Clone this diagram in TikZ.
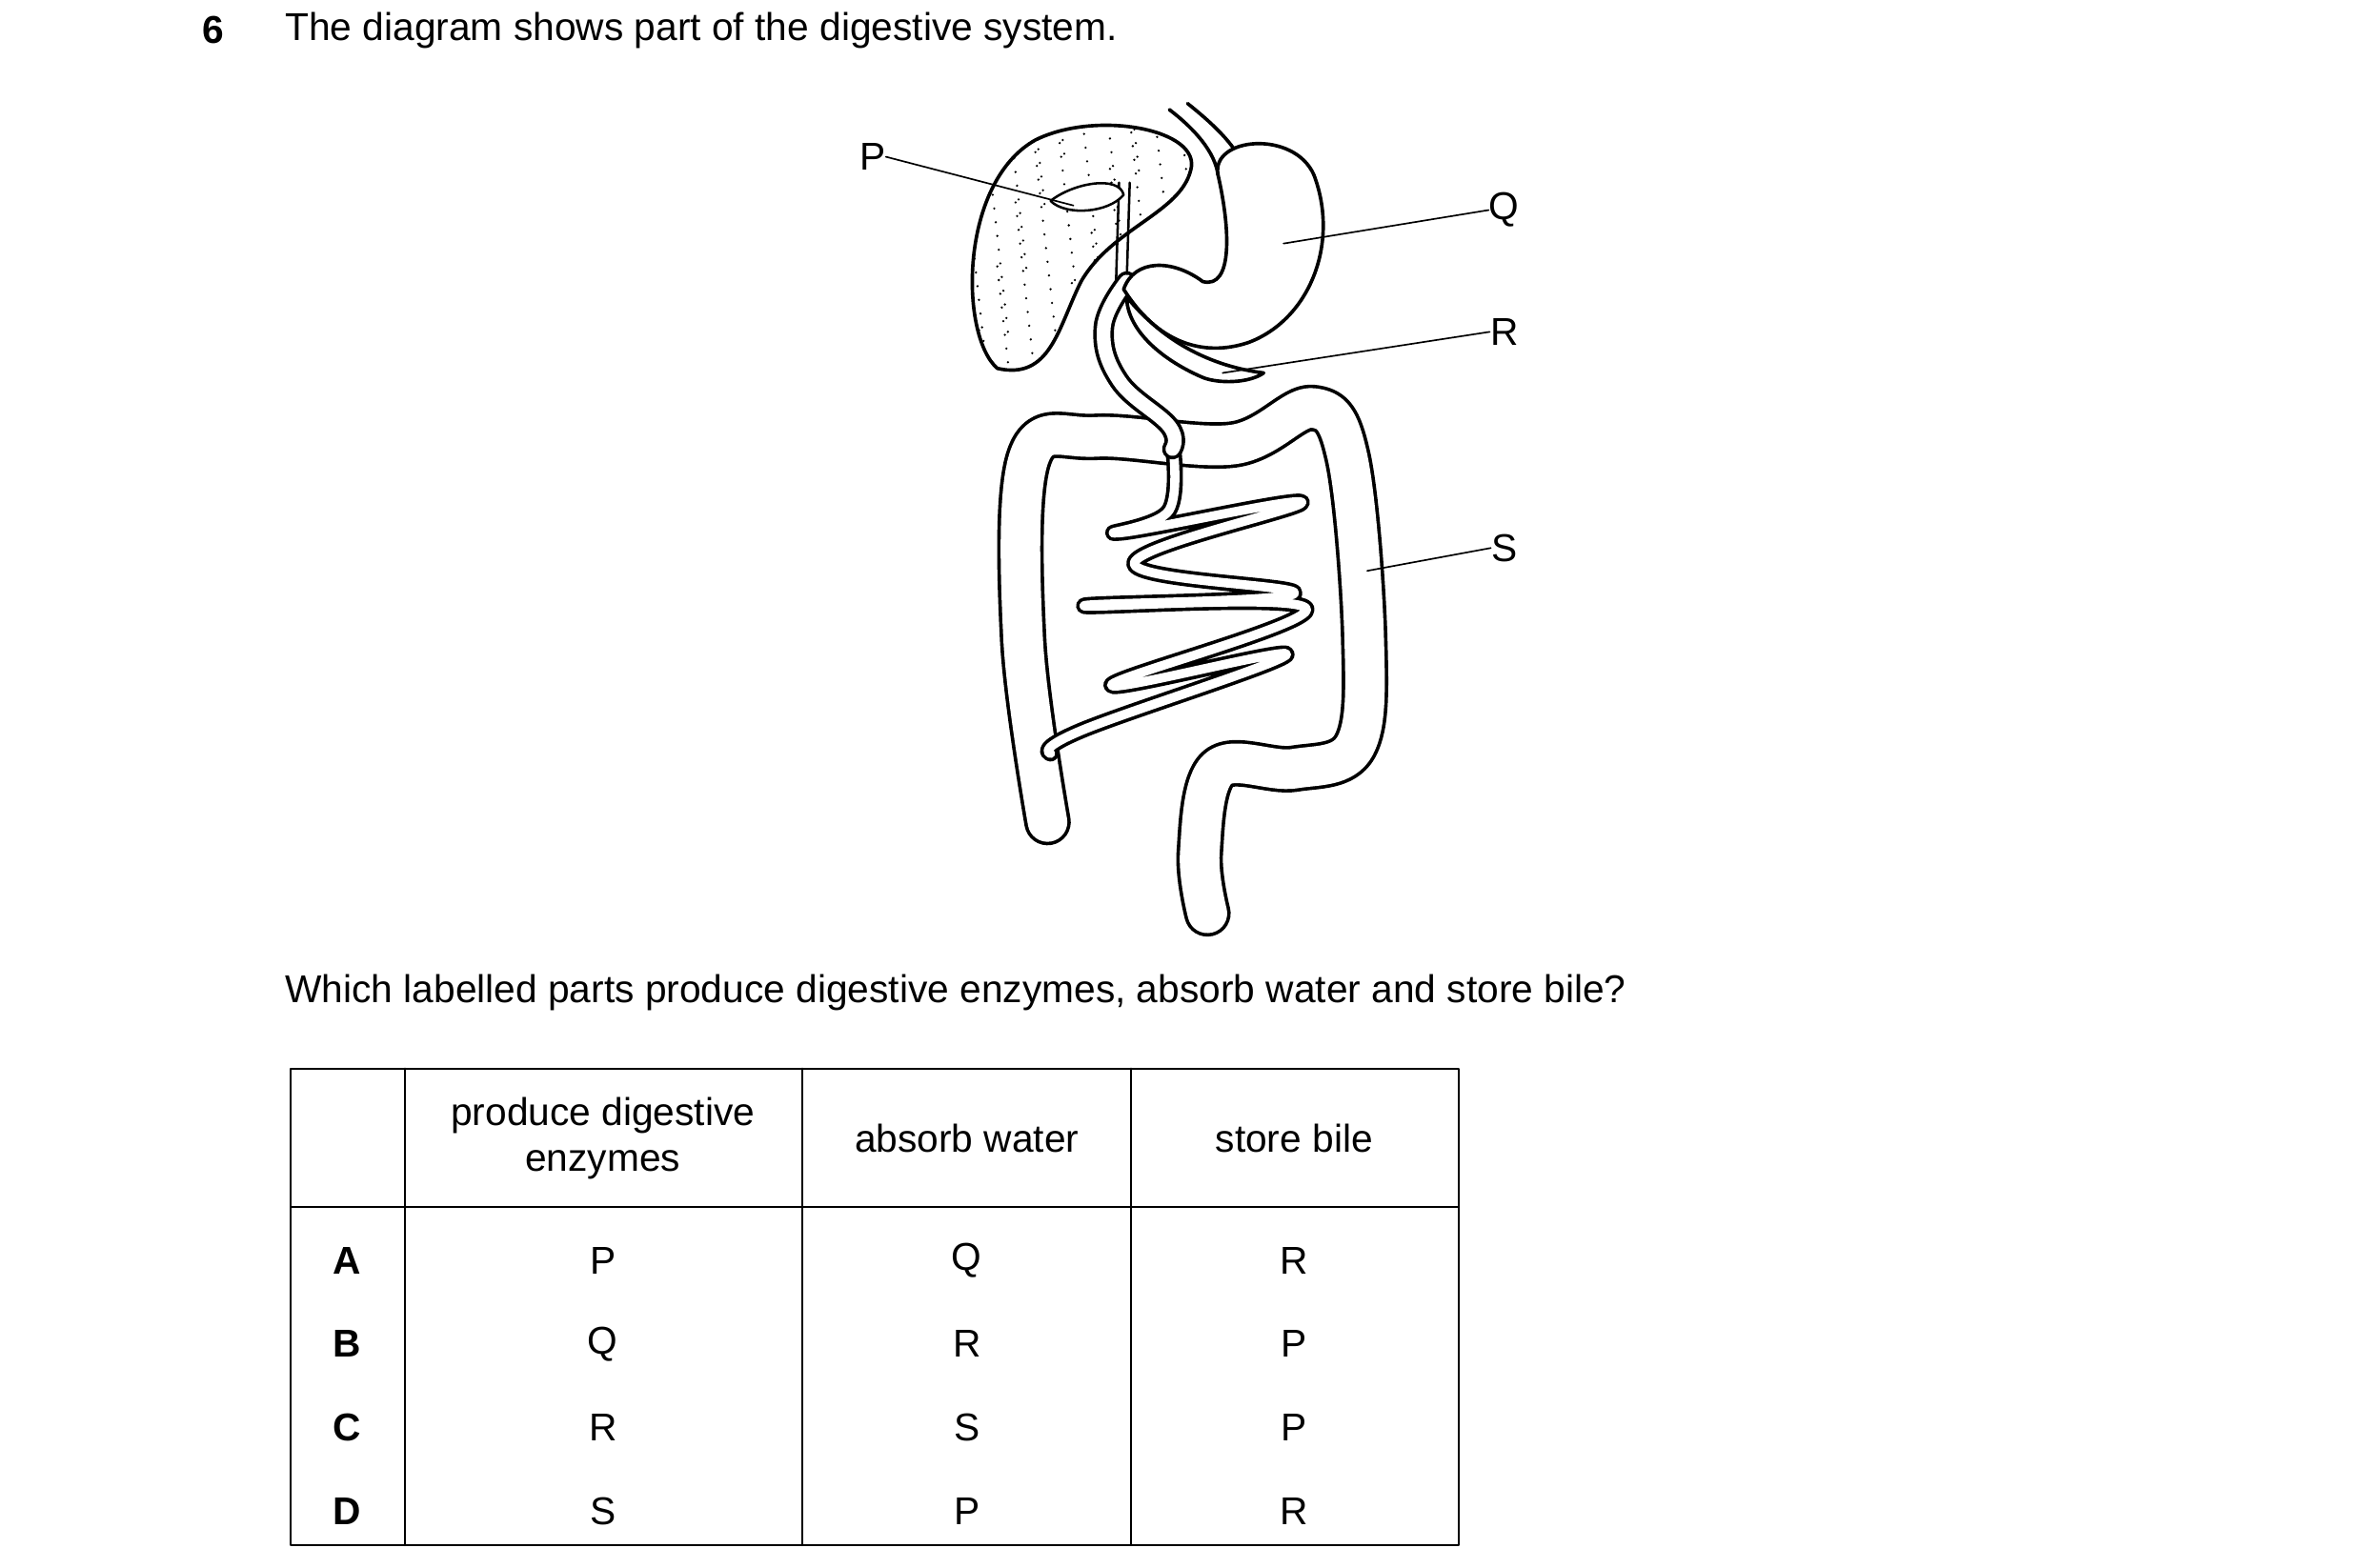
\documentclass[tikz,border=0pt]{standalone}
\usepackage{fontspec}
\setmainfont{Liberation Sans}
\usetikzlibrary{positioning}
\tikzset{
  txt/.style={font=\fontsize{14.5}{17}\selectfont, inner sep=0pt},
  lbl/.style={txt},
  lead/.style={line width=0.6pt},
  organ/.style={line width=1.3pt, fill=white},
  tube/.style={line width=1.3pt, double=white, double distance=#1},
}
\begin{document}
\begin{tikzpicture}[line cap=round,line join=round,x=0.02cm,y=-0.02cm]
\useasboundingbox (0,0) rectangle (1552,1030);
% heading
\node[txt,font=\fontsize{14.5}{17}\selectfont\bfseries] (num) at (140,20) {6};
\node[txt,anchor=west] (head) at (187,20) {The diagram shows part of the digestive system.};
% large intestine
\draw[tube=0.52cm] plot[smooth,tension=0.6] coordinates {(688,540) (672,420) (676,300) (720,287) (810,292) (862,268) (885,300) (896,420) (890,490) (850,505) (800,505) (788,560) (793,600)};
% small intestine
\draw[tube=0.12cm] plot[smooth,tension=0.7] coordinates {(770,290) (768,335) (735,350) (855,330) (745,370) (850,390) (712,398) (858,400) (730,450) (845,430) (710,480) (690,495)};
% liver
\begin{scope}
\clip (655,242) .. controls (630,220) and (630,120) .. (680,92) .. controls (720,72) and (790,85) .. (782,112) .. controls (775,140) and (730,150) .. (710,185) .. controls (695,215) and (690,250) .. (655,242);
\fill[white] (600,60) rectangle (800,260);
\foreach \i in {0,...,260} {
  \pgfmathsetmacro\px{630+mod(\i*37,160)}
  \pgfmathsetmacro\py{80+mod(\i*53,170)}
  \fill (\px,\py) circle (0.8);
}
\end{scope}
\draw[line width=1.3pt] (655,242) .. controls (630,220) and (630,120) .. (680,92) .. controls (720,72) and (790,85) .. (782,112) .. controls (775,140) and (730,150) .. (710,185) .. controls (695,215) and (690,250) .. (655,242);
% bile duct and gall bladder
\draw[line width=0.9pt] (735,120) -- (733,185) (742,120) -- (740,185);
\draw[line width=0.9pt,fill=white] (690,132) .. controls (705,120) and (735,115) .. (738,128) .. controls (728,140) and (700,142) .. (690,132);
% duodenum
\draw[tube=0.18cm] plot[smooth,tension=0.7] coordinates {(740,185) (725,215) (735,250) (768,280) (770,295)};
% oesophagus
\draw[line width=1.3pt] (768,72) .. controls (785,85) and (798,100) .. (800,115);
\draw[line width=1.3pt] (780,68) .. controls (795,80) and (808,92) .. (815,105);
% stomach
\draw[organ] (800,115) .. controls (795,90) and (850,85) .. (863,115) .. controls (880,160) and (860,210) .. (820,225) .. controls (790,235) and (760,225) .. (738,190) .. controls (745,170) and (770,170) .. (790,185) .. controls (810,190) and (808,150) .. (800,115);
% pancreas
\draw[organ] (740,195) .. controls (760,220) and (790,240) .. (830,245) .. controls (820,252) and (800,252) .. (790,248) .. controls (760,235) and (740,215) .. (740,195);
% labels
\coordinate (pP) at (705,135);
\coordinate (pQ) at (843,160);
\coordinate (pR) at (803,245);
\coordinate (pS) at (898,375);
\node[lbl] (P) at (573,103) {P};
\node[lbl] (Q) at (988,138) {Q};
\node[lbl] (R) at (988,218) {R};
\node[lbl] (S) at (988,360) {S};
\draw[lead] (P.east) -- (pP);
\draw[lead] (Q.west) -- (pQ);
\draw[lead] (R.west) -- (pR);
\draw[lead] (S.west) -- (pS);
% question
\node[txt,anchor=west] (ques) at (187,652) {Which labelled parts produce digestive enzymes, absorb water and store bile?};
% table
\draw[line width=0.8pt] (191,702) rectangle (958,1015);
\draw[line width=0.8pt] (191,793) -- (958,793);
\foreach \x in {266,527,743} \draw[line width=0.8pt] (\x,702) -- (\x,1015);
\node[txt,align=center] (h1) at (396,748) {produce digestive\\enzymes};
\node[txt] (h2) at (635,748) {absorb water};
\node[txt] (h3) at (850,748) {store bile};
\foreach \k/\y/\a/\b/\c in {A/828/P/Q/R, B/883/Q/R/P, C/938/R/S/P, D/993/S/P/R} {
  \node[txt,font=\fontsize{14.5}{17}\selectfont\bfseries] (row\k) at (228,\y) {\k};
  \node[txt] (prod\k) at (396,\y) {\a};
  \node[txt] (abs\k) at (635,\y) {\b};
  \node[txt] (bile\k) at (850,\y) {\c};
}
\end{tikzpicture}
\end{document}
